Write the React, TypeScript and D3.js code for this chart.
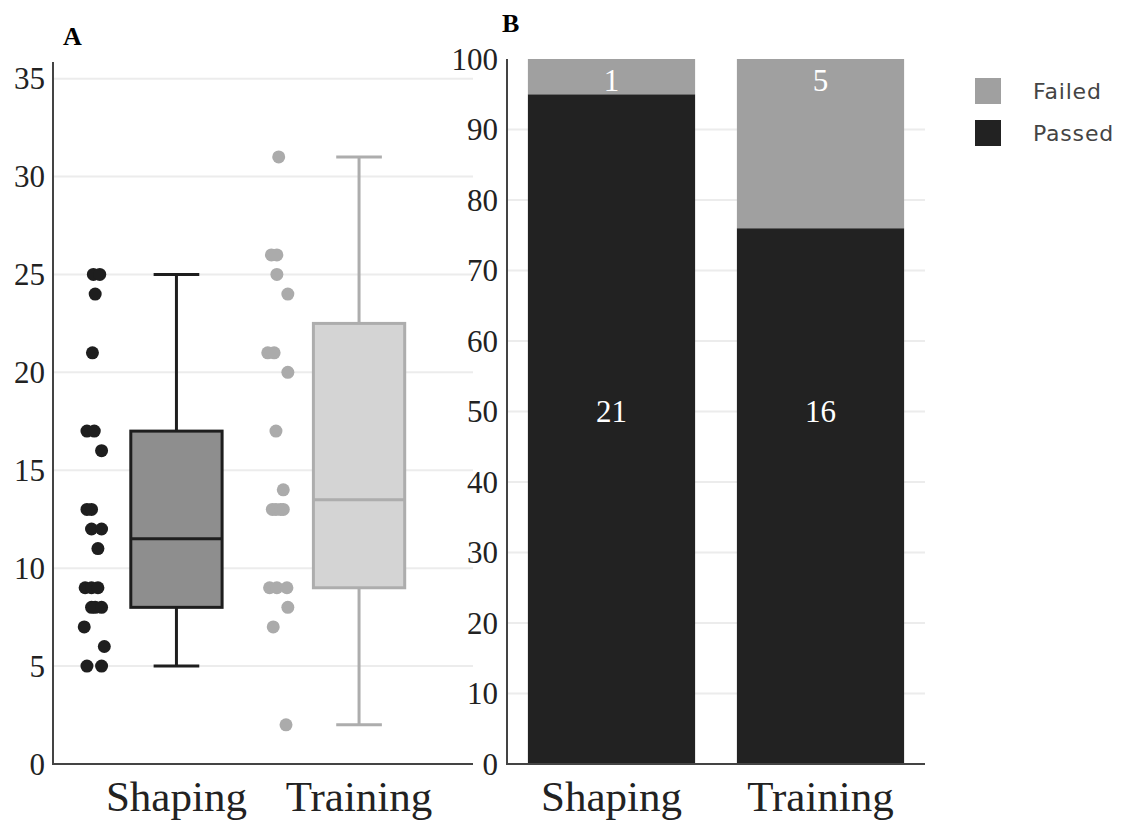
import React from "react";
import * as d3 from "d3";

// Panel A: per-animal values by phase (strip of points + box)
const categories = ["Shaping", "Training"];
const shapingValues = [25, 25, 24, 21, 17, 17, 16, 13, 13, 12, 12, 11, 9, 9, 9, 8, 8, 8, 7, 6, 5, 5];
const shapingJitter = [-0.455, -0.42, -0.445, -0.46, -0.49, -0.45, -0.41, -0.49, -0.465, -0.465, -0.41, -0.43, -0.5, -0.465, -0.43, -0.465, -0.445, -0.41, -0.505, -0.395, -0.49, -0.41];
const trainingValues = [31, 26, 26, 25, 24, 21, 21, 20, 17, 14, 13, 13, 13, 13, 9, 9, 9, 8, 7, 2];
const trainingJitter = [-0.44, -0.48, -0.45, -0.45, -0.39, -0.5, -0.465, -0.39, -0.455, -0.415, -0.475, -0.455, -0.43, -0.415, -0.49, -0.45, -0.395, -0.39, -0.47, -0.4];
const yTicksA = [0, 5, 10, 15, 20, 25, 30, 35];

// Panel B: pass / fail counts per phase
const passedCounts = [21, 16];
const failedCounts = [1, 5];
const yTicksB = [0, 10, 20, 30, 40, 50, 60, 70, 80, 90, 100];
const legendItems = ["Failed", "Passed"];

const W = 1128;
const H = 823;
const serif = "'Liberation Serif', 'Times New Roman', serif";
const sans = "'DejaVu Sans', Verdana, sans-serif";

function median(s: number[]) {
  const n = s.length;
  return n % 2 ? s[(n - 1) / 2] : (s[n / 2 - 1] + s[n / 2]) / 2;
}

function boxStats(values: number[]) {
  const s = [...values].sort((a, b) => a - b);
  const n = s.length;
  const half = Math.floor(n / 2);
  const q1 = median(s.slice(0, half));
  const q3 = median(s.slice(n % 2 ? half + 1 : half));
  const med = median(s);
  const iqr = q3 - q1;
  const lo = d3.min(s.filter((v) => v >= q1 - 1.5 * iqr))!;
  const hi = d3.max(s.filter((v) => v <= q3 + 1.5 * iqr))!;
  return { q1, q3, med, lo, hi };
}

export default function App() {
  // ---- Panel A scales
  const aLeft = 53, aRight = 473, aTop = 62, aBottom = 764;
  const yA = d3.scaleLinear().domain([0, 35.85]).range([aBottom, aTop]);
  const xA = d3.scalePoint<string>().domain(categories).range([aLeft, aRight]).padding(0.65).align(0.52);
  const xIdx = d3.scaleLinear().domain([0, 1]).range([xA("Shaping")!, xA("Training")!]);
  const step = xA.step();

  const groups = [
    { name: "Shaping", values: shapingValues, jitter: shapingJitter, point: "#1e1e1e", fill: "#8e8e8e", stroke: "#1e1e1e" },
    { name: "Training", values: trainingValues, jitter: trainingJitter, point: "#ababab", fill: "#d4d4d4", stroke: "#adadad" },
  ];

  // ---- Panel B scales
  const bLeft = 507, bRight = 925, bTop = 59, bBottom = 764;
  const yB = d3.scaleLinear().domain([0, 100]).range([bBottom, bTop]);
  const xB = d3.scaleBand<string>().domain(categories).range([bLeft, bRight]).paddingInner(0.2).paddingOuter(0.1);
  // whole-number percentages of each phase's total
  const stackRows = categories.map((c, i) => {
    const total = passedCounts[i] + failedCounts[i];
    const passedPct = Math.round((passedCounts[i] / total) * 100);
    return { cat: c, Passed: passedPct, Failed: 100 - passedPct };
  });
  const series = d3.stack<any>().keys(["Passed", "Failed"])(stackRows);
  const barColor: Record<string, string> = { Passed: "#222222", Failed: "#a0a0a0" };
  const counts: Record<string, number[]> = { Passed: passedCounts, Failed: failedCounts };

  const boxW = step * 0.5;
  const capW = step * 0.25;

  return (
    <svg width={W} height={H} style={{ position: "absolute", left: 0, top: 0, background: "#fff" }}>
      {/* ===== Panel A ===== */}
      <text x={63} y={45} fontFamily={serif} fontWeight="bold" fontSize={26} fill="#000">A</text>
      {yTicksA.filter((t) => t > 0).map((t) => (
        <line key={t} x1={aLeft} x2={aRight} y1={yA(t)} y2={yA(t)} stroke="#ececec" strokeWidth={2} />
      ))}
      {yTicksA.map((t) => (
        <text key={t} x={aLeft - 8} y={yA(t)} dy="0.35em" textAnchor="end" fontFamily={serif} fontSize={31} fill="#222">{t}</text>
      ))}
      {groups.map((g, gi) => {
        const cx = xA(g.name)!;
        const st = boxStats(g.values);
        return (
          <g key={g.name}>
            {g.values.map((v, i) => (
              <circle key={i} cx={xIdx(gi + g.jitter[i])} cy={yA(v)} r={6.5} fill={g.point} />
            ))}
            <line x1={cx} x2={cx} y1={yA(st.lo)} y2={yA(st.q1)} stroke={g.stroke} strokeWidth={3} />
            <line x1={cx} x2={cx} y1={yA(st.q3)} y2={yA(st.hi)} stroke={g.stroke} strokeWidth={3} />
            <line x1={cx - capW / 2} x2={cx + capW / 2} y1={yA(st.lo)} y2={yA(st.lo)} stroke={g.stroke} strokeWidth={3} />
            <line x1={cx - capW / 2} x2={cx + capW / 2} y1={yA(st.hi)} y2={yA(st.hi)} stroke={g.stroke} strokeWidth={3} />
            <rect x={cx - boxW / 2} y={yA(st.q3)} width={boxW} height={yA(st.q1) - yA(st.q3)} fill={g.fill} stroke={g.stroke} strokeWidth={3} />
            <line x1={cx - boxW / 2} x2={cx + boxW / 2} y1={yA(st.med)} y2={yA(st.med)} stroke={g.stroke} strokeWidth={3} />
          </g>
        );
      })}
      <line x1={aLeft} x2={aLeft} y1={aTop} y2={aBottom + 1} stroke="#444" strokeWidth={2} />
      <line x1={aLeft} x2={aRight} y1={aBottom} y2={aBottom} stroke="#444" strokeWidth={2} />
      {categories.map((c) => (
        <text key={c} x={xA(c)!} y={811} textAnchor="middle" fontFamily={serif} fontSize={43} fill="#222">{c}</text>
      ))}

      {/* ===== Panel B ===== */}
      <text x={502} y={32} fontFamily={serif} fontWeight="bold" fontSize={26} fill="#000">B</text>
      {yTicksB.filter((t) => t > 0 && t < 100).map((t) => (
        <line key={t} x1={bLeft} x2={bRight} y1={yB(t)} y2={yB(t)} stroke="#ececec" strokeWidth={2} />
      ))}
      {yTicksB.map((t) => (
        <text key={t} x={bLeft - 9} y={yB(t)} dy="0.35em" textAnchor="end" fontFamily={serif} fontSize={31} fill="#222">{t}</text>
      ))}
      {series.map((s) => (
        <g key={s.key}>
          {s.map((d, i) => (
            <rect key={i} x={xB(categories[i])!} y={yB(d[1])} width={xB.bandwidth()} height={yB(d[0]) - yB(d[1])} fill={barColor[s.key]} />
          ))}
        </g>
      ))}
      {categories.map((c, i) => (
        <g key={c}>
          <text x={xB(c)! + xB.bandwidth() / 2} y={yB(100) + 21} dy="0.35em" textAnchor="middle" fontFamily={serif} fontSize={31} fill="#fff">{counts.Failed[i]}</text>
          <text x={xB(c)! + xB.bandwidth() / 2} y={yB(50)} dy="0.35em" textAnchor="middle" fontFamily={serif} fontSize={31} fill="#fff">{counts.Passed[i]}</text>
        </g>
      ))}
      <line x1={bLeft} x2={bLeft} y1={bTop} y2={bBottom + 1} stroke="#444" strokeWidth={2} />
      <line x1={bLeft} x2={bRight} y1={bBottom} y2={bBottom} stroke="#444" strokeWidth={2} />
      {categories.map((c) => (
        <text key={c} x={xB(c)! + xB.bandwidth() / 2} y={811} textAnchor="middle" fontFamily={serif} fontSize={43} fill="#222">{c}</text>
      ))}

      {/* ===== Legend ===== */}
      {legendItems.map((k, i) => (
        <g key={k} transform={`translate(975, ${78 + i * 42})`}>
          <rect width={26} height={26} fill={barColor[k]} />
          <text x={58} y={13} dy="0.36em" fontFamily={sans} fontSize={22} letterSpacing={0.8} fill="#444">{k}</text>
        </g>
      ))}
    </svg>
  );
}
